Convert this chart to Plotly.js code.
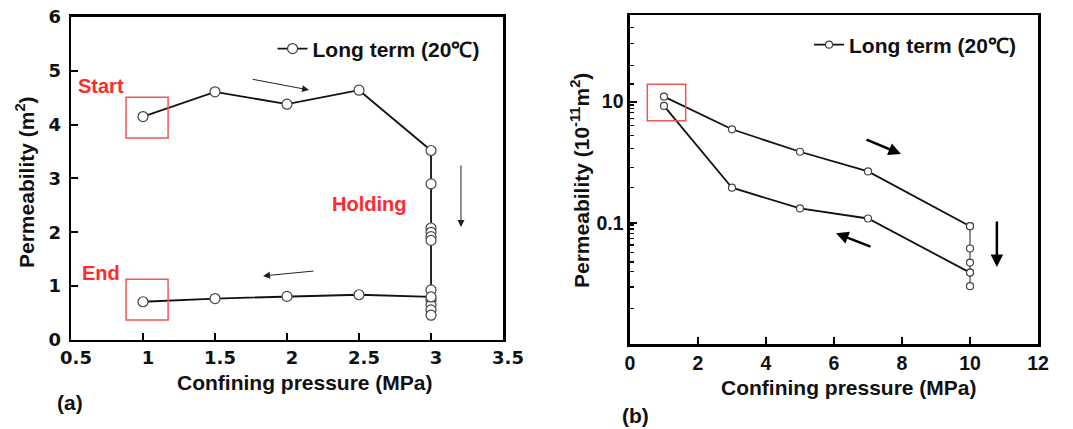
<!DOCTYPE html>
<html>
<head>
<meta charset="utf-8">
<script src="https://cdn.plot.ly/plotly-3.0.1.min.js"></script>
<style>html,body{margin:0;padding:0;background:#fff;}#chart{width:1073px;height:429px;}</style>
</head>
<body>
<div id="chart"></div>
<script>
// Panel (a): permeability vs confining pressure (linear)
const aPressure = [1, 1.5, 2, 2.5, 3, 3, 3, 3, 3, 3, 3, 3, 3, 3, 3, 3, 2.5, 2, 1.5, 1];
const aPerm     = [4.15, 4.61, 4.38, 4.64, 3.52, 2.90, 2.08, 2.00, 1.92, 1.85, 0.93, 0.74, 0.65, 0.56, 0.46, 0.80, 0.84, 0.81, 0.77, 0.71];

// Panel (b): permeability (10^-11 m^2) vs confining pressure (log)
const bLoadPressure   = [1, 3, 5, 7, 10];
const bLoadPerm       = [12.1, 3.5, 1.49, 0.705, 0.088];
const bHoldPressure   = [10, 10, 10, 10, 10];
const bHoldPerm       = [0.088, 0.0377, 0.0221, 0.0151, 0.009];
const bUnloadPressure = [10, 7, 5, 3, 1];
const bUnloadPerm     = [0.0151, 0.118, 0.173, 0.38, 8.5];

const bMajorTicks = [0.1, 10];
const bMajorLabels = ['0.1', '10'];
const bMinorTicks = [0.0038, 0.0087, 0.0155, 0.0226, 0.032, 0.043, 0.055, 0.067, 0.079, 0.092,
                     0.38, 0.82, 1.7, 2.8, 4.0, 5.3, 6.7, 7.8, 8.8, 19.5, 40, 92, 166];

const legendName = 'Long term (20℃)';
const xTitle = 'Confining pressure (MPa)';
const yTitleA = 'Permeability (m<sup>2</sup>)';
const yTitleB = 'Permeability (10<sup>-11</sup>m<sup>2</sup>)';

const LIB = 'Liberation Sans, Arial, sans-serif';
const DJV = 'DejaVu Sans, sans-serif';
const RED = '#ff2a2a';
const BOX = '#f25555';
const INK = '#111';

const markerA = {symbol: 'circle', size: 10, color: '#ffffff', line: {color: '#444', width: 1.2}};
const markerB = {symbol: 'circle', size: 7, color: '#ffffff', line: {color: '#444', width: 1.2}};

const traces = [
  {x: aPressure, y: aPerm, xaxis: 'x', yaxis: 'y', mode: 'lines+markers', name: legendName,
   line: {color: '#111', width: 1.8}, marker: markerA, legend: 'legend', showlegend: true},
  {x: bLoadPressure, y: bLoadPerm, xaxis: 'x2', yaxis: 'y2', mode: 'lines+markers', name: legendName,
   line: {color: '#111', width: 1.8}, marker: markerB, legend: 'legend2', showlegend: true},
  {x: bHoldPressure, y: bHoldPerm, xaxis: 'x2', yaxis: 'y2', mode: 'lines+markers', name: legendName,
   line: {color: '#222', width: 1}, marker: markerB, showlegend: false},
  {x: bUnloadPressure, y: bUnloadPerm, xaxis: 'x2', yaxis: 'y2', mode: 'lines+markers', name: legendName,
   line: {color: '#111', width: 1.8}, marker: markerB, showlegend: false}
];

const axisCommon = {
  showline: true, linecolor: '#000', linewidth: 2.5, mirror: true,
  ticks: 'inside', ticklen: 7, tickwidth: 2, tickcolor: '#000',
  showgrid: false, zeroline: false
};
const tickA = {family: DJV, size: 18, color: INK, weight: 'bold'};
const tickB = {family: LIB, size: 19.5, color: INK, weight: 'bold'};
const titleFont = {family: LIB, size: 21, color: INK, weight: 'bold'};
const redFont = {family: LIB, size: 20, color: RED, weight: 'bold'};
const legFont = {family: LIB, size: 21, color: INK, weight: 'bold'};
const panelFont = {family: LIB, size: 21, color: INK, weight: 'bold'};

function paperText(px, py, text, font, angle) {
  return {xref: 'paper', yref: 'paper', x: px / 1073, y: (429 - py) / 429, text: text,
          xanchor: 'center', yanchor: 'middle', textangle: angle || 0, showarrow: false, font: font};
}

const layout = {
  width: 1073, height: 429,
  margin: {l: 0, r: 0, t: 0, b: 0},
  paper_bgcolor: '#fff', plot_bgcolor: '#fff',
  font: {family: LIB},
  xaxis: Object.assign({}, axisCommon, {
    domain: [0.0662, 0.4688], range: [0.5, 3.5], dtick: 0.5, tick0: 0.5, anchor: 'y', tickfont: tickA,
    ticklabelshift: 5
  }),
  yaxis: Object.assign({}, axisCommon, {
    domain: [0.2075, 0.9604], range: [0, 6], dtick: 1, anchor: 'x', tickfont: tickA,
    ticklabelstandoff: 4
  }),
  xaxis2: Object.assign({}, axisCommon, {
    domain: [0.5871, 0.9674], range: [0, 12], dtick: 2, anchor: 'y2', tickfont: tickB
  }),
  yaxis2: Object.assign({}, axisCommon, {
    domain: [0.1981, 0.965], type: 'log', range: [-3, 2.43], anchor: 'x2', tickfont: tickB,
    tickmode: 'array', tickvals: bMajorTicks, ticktext: bMajorLabels,
    minor: {tickmode: 'array', tickvals: bMinorTicks, ticks: 'inside', ticklen: 4, tickwidth: 1.2, tickcolor: '#000', showgrid: false}
  }),
  legend: {x: 0.254, y: 0.886, xanchor: 'left', yanchor: 'middle', bgcolor: 'rgba(0,0,0,0)',
           font: legFont, itemwidth: 30},
  legend2: {x: 0.754, y: 0.895, xanchor: 'left', yanchor: 'middle', bgcolor: 'rgba(0,0,0,0)',
           font: legFont, itemwidth: 30},
  shapes: [
    {type: 'rect', xref: 'x', yref: 'y', x0: 0.882, x1: 1.174, y0: 3.75, y1: 4.51, line: {color: BOX, width: 1.5}},
    {type: 'rect', xref: 'x', yref: 'y', x0: 0.882, x1: 1.174, y0: 0.37, y1: 1.13, line: {color: BOX, width: 1.5}},
    {type: 'rect', xref: 'x2', yref: 'y2', x0: 0.51, x1: 1.64, y0: 4.85, y1: 19.4, line: {color: BOX, width: 1.5}}
  ],
  annotations: [
    // axis titles
    paperText(305, 382, xTitle, titleFont),
    paperText(849, 387, xTitle, titleFont),
    paperText(25, 182, yTitleA, titleFont, -90),
    paperText(580, 181, yTitleB, titleFont, -90),
    // panel labels
    paperText(70, 402, '(a)', panelFont),
    paperText(635, 415, '(b)', panelFont),
    // labels
    {xref: 'x', yref: 'y', x: 0.708, y: 4.72, text: 'Start', xanchor: 'center', yanchor: 'middle', showarrow: false, font: redFont},
    {xref: 'x', yref: 'y', x: 0.708, y: 1.245, text: 'End', xanchor: 'center', yanchor: 'middle', showarrow: false, font: redFont},
    {xref: 'x', yref: 'y', x: 2.569, y: 2.53, text: 'Holding', xanchor: 'center', yanchor: 'middle', showarrow: false, font: redFont},
    // arrows
    {xref: 'x', yref: 'y', x: 2.153, y: 4.644, ax: -58, ay: -11, text: '', showarrow: true, arrowhead: 2, arrowsize: 1.4, arrowwidth: 1, arrowcolor: '#222'},
    {xref: 'x', yref: 'y', x: 3.208, y: 2.10, ax: 0, ay: -63, text: '', showarrow: true, arrowhead: 2, arrowsize: 1.4, arrowwidth: 1, arrowcolor: '#222'},
    {xref: 'x', yref: 'y', x: 1.833, y: 1.19, ax: 52, ay: -5, text: '', showarrow: true, arrowhead: 2, arrowsize: 1.4, arrowwidth: 1, arrowcolor: '#222'},
    {xref: 'x2', yref: 'y2', x: 7.97, y: 0.136, ax: -36, ay: -15, text: '', showarrow: true, arrowhead: 2, arrowsize: 1, arrowwidth: 2.5, arrowcolor: '#000'},
    {xref: 'x2', yref: 'y2', x: 6.06, y: -1.17, ax: 36, ay: 14, text: '', showarrow: true, arrowhead: 2, arrowsize: 1, arrowwidth: 2.5, arrowcolor: '#000'},
    {xref: 'x2', yref: 'y2', x: 10.79, y: -1.73, ax: 0, ay: -47, text: '', showarrow: true, arrowhead: 2, arrowsize: 1, arrowwidth: 2.5, arrowcolor: '#000'}
  ]
};

Plotly.newPlot('chart', traces, layout, {displayModeBar: false, staticPlot: true});
</script>
</body>
</html>
